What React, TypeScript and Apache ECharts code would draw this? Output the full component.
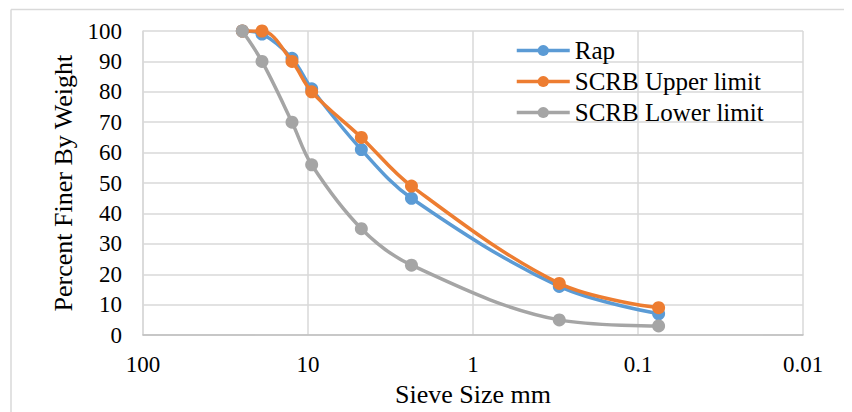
import React, { useEffect, useRef } from "react";
import * as echarts from "echarts";

const sieveSizes = [25, 19, 12.5, 9.5, 4.75, 2.36, 0.3, 0.075];
const rapValues = [100, 99, 91, 81, 61, 45, 16, 7];
const upperValues = [100, 100, 90, 80, 65, 49, 17, 9];
const lowerValues = [100, 90, 70, 56, 35, 23, 5, 3];
const seriesNames = ["Rap", "SCRB Upper limit", "SCRB Lower limit"];
const xTickLabels = ["100", "10", "1", "0.1", "0.01"];

const FONT = '"Liberation Serif", "Times New Roman", serif';
const COLORS = ["#5B9BD5", "#ED7D31", "#A5A5A5"];

function pairs(vals: number[]) {
  return sieveSizes.map((s, i) => [s, vals[i]]);
}

export default function App() {
  const ref = useRef<HTMLDivElement>(null);
  useEffect(() => {
    if (!ref.current) return;
    const chart = echarts.init(ref.current, undefined, { renderer: "svg" });
    const all = [rapValues, upperValues, lowerValues];
    chart.setOption({
      animation: false,
      backgroundColor: "#fff",
      color: COLORS,
      grid: { left: 135, top: 23, width: 660, height: 305, containLabel: false },
      graphic: [
        { type: "line", shape: { x1: 3, y1: 1.5, x2: 3, y2: 420 }, style: { stroke: "#D9D9D9", lineWidth: 1.5 } },
        { type: "line", shape: { x1: 3, y1: 1.5, x2: 860, y2: 1.5 }, style: { stroke: "#D9D9D9", lineWidth: 1.5 } },
      ],
      legend: {
        orient: "vertical",
        left: 502,
        top: 23,
        itemWidth: 53,
        itemHeight: 14,
        itemGap: 2,
        lineStyle: { width: 3.5 },
        textStyle: { fontFamily: FONT, fontSize: 25, color: "#000", lineHeight: 29 },
        data: seriesNames,
      },
      xAxis: {
        type: "log",
        logBase: 10,
        min: 0.01,
        max: 100,
        inverse: true,
        name: "Sieve Size mm",
        nameLocation: "middle",
        nameGap: 40,
        nameTextStyle: { fontFamily: FONT, fontSize: 26, color: "#000" },
        axisLine: { show: true, lineStyle: { color: "#BFBFBF", width: 1.5 } },
        axisTick: { show: false },
        axisLabel: {
          fontFamily: FONT,
          fontSize: 23,
          color: "#000",
          margin: 18,
          formatter: (v: number) => {
            const lab = xTickLabels.find((t) => Math.abs(parseFloat(t) - v) < 1e-9 * Math.max(1, v));
            return lab !== undefined ? lab : String(v);
          },
        },
        splitLine: { show: true, lineStyle: { color: "#D9D9D9", width: 1.5 } },
      },
      yAxis: {
        type: "value",
        min: 0,
        max: 100,
        interval: 10,
        name: "Percent Finer By Weight",
        nameLocation: "middle",
        nameGap: 66,
        nameTextStyle: { fontFamily: FONT, fontSize: 26, color: "#000" },
        axisLine: { show: true, lineStyle: { color: "#D9D9D9", width: 1.5 } },
        axisTick: { show: false },
        axisLabel: { fontFamily: FONT, fontSize: 23, color: "#000", margin: 21 },
        splitLine: { show: true, lineStyle: { color: "#D9D9D9", width: 1.5 } },
      },
      series: seriesNames.map((name, i) => ({
        name,
        type: "line",
        smooth: 0.35,
        data: pairs(all[i]),
        symbol: "circle",
        symbolSize: 13,
        lineStyle: { width: 3.5, color: COLORS[i] },
        itemStyle: { color: COLORS[i] },
        z: 2 + i,
      })),
    });
    return () => chart.dispose();
  }, []);
  return <div ref={ref} style={{ width: 844, height: 404 }} />;
}
